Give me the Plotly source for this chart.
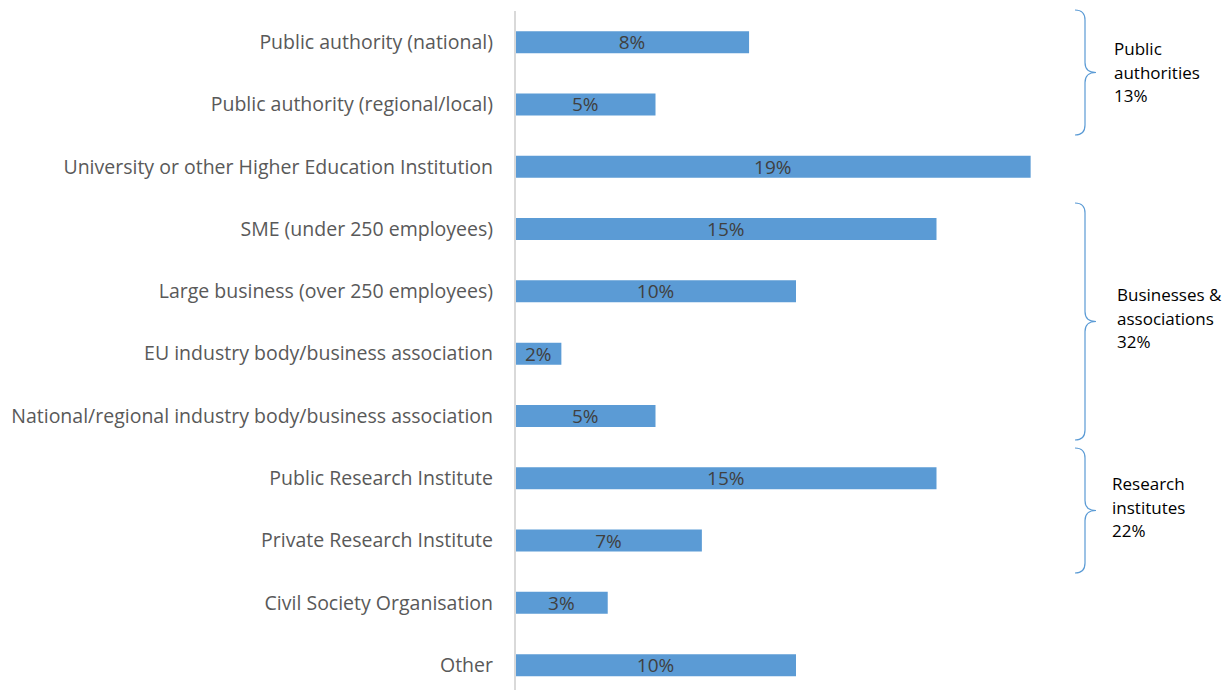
import plotly.graph_objects as go

categories = [
    "Public authority (national)",
    "Public authority (regional/local)",
    "University or other Higher Education Institution",
    "SME (under 250 employees)",
    "Large business (over 250 employees)",
    "EU industry body/business association",
    "National/regional industry body/business association",
    "Public Research Institute",
    "Private Research Institute",
    "Civil Society Organisation",
    "Other",
]
values = [8.33, 5.0, 18.35, 15.0, 10.0, 1.65, 5.0, 15.0, 6.65, 3.3, 10.0]
value_labels = ["8%", "5%", "19%", "15%", "10%", "2%", "5%", "15%", "7%", "3%", "10%"]

group_names = [["Public", "authorities", "13%"],
               ["Businesses &", "associations", "32%"],
               ["Research", "institutes", "22%"]]

# layout (screen pixel positions of braces and group labels)
brace_spans = [(10, 135), (203, 440), (448, 573)]
label_x = [1112, 1115, 1110]
label_mid = [72, 318, 507]

OFF = 8  # page body margin
W, H = 1232, 690
L, R, T, B = 507, 0, 3, 0
PW, PH = W - L - R, H - T - B
XMAX = PW / 28.1
PX_PER_CAT = 62.3
Y_TOP = -0.5
Y_BOT = Y_TOP + PH / PX_PER_CAT


def px_x(sx):
    return (sx - OFF - L) / PW


def px_y(sy):
    return 1 - (sy - OFF - T) / PH


FONT = "Open Sans, sans-serif"

fig = go.Figure(go.Bar(
    y=categories, x=values, orientation="h",
    marker=dict(color="#5B9BD5", line=dict(width=0)),
    text=value_labels, textposition="inside", insidetextanchor="middle",
    textangle=0, constraintext="none",
    textfont=dict(family=FONT, size=19, color="#404040"),
    hoverinfo="skip",
))

shapes = [dict(type="line", xref="paper", yref="paper", x0=0, x1=0, y0=-0.1, y1=1,
               line=dict(color="#D9D9D9", width=2))]
annotations = []
for names, (ytop, ybot), lx, lm in zip(group_names, brace_spans, label_x, label_mid):
    ymid = (ytop + ybot) / 2
    x0, x1, x2 = 1075, 1085, 1096
    r = 10

    def P(x, y):
        return f"{px_x(x):.5f},{px_y(y):.5f}"

    path = (f"M {P(x0, ytop)} Q {P(x1, ytop)} {P(x1, ytop + r)} "
            f"L {P(x1, ymid - r)} Q {P(x1, ymid)} {P(x2, ymid)} "
            f"Q {P(x1, ymid)} {P(x1, ymid + r)} "
            f"L {P(x1, ybot - r)} Q {P(x1, ybot)} {P(x0, ybot)}")
    shapes.append(dict(type="path", xref="paper", yref="paper", path=path,
                       line=dict(color="#5B9BD5", width=1.2)))
    for k, line in enumerate(names):
        annotations.append(dict(
            xref="paper", yref="paper", x=px_x(lx), y=px_y(lm - 23.5 + 23.5 * k),
            text=line, showarrow=False, xanchor="left", yanchor="middle",
            font=dict(family=FONT, size=17, color="#000000"),
        ))

fig.update_layout(
    width=W, height=H,
    margin=dict(l=L, r=R, t=T, b=B, pad=0),
    plot_bgcolor="white", paper_bgcolor="white",
    bargap=0.647,
    showlegend=False,
    shapes=shapes, annotations=annotations,
    xaxis=dict(range=[0, XMAX], showgrid=False, zeroline=False,
               showticklabels=False, showline=False),
    yaxis=dict(range=[Y_BOT, Y_TOP], showgrid=False, zeroline=False,
               showline=False, ticks="", ticklabelstandoff=21,
               tickfont=dict(family=FONT, size=19.5, color="#595959")),
)

fig.write_html("out.html")
